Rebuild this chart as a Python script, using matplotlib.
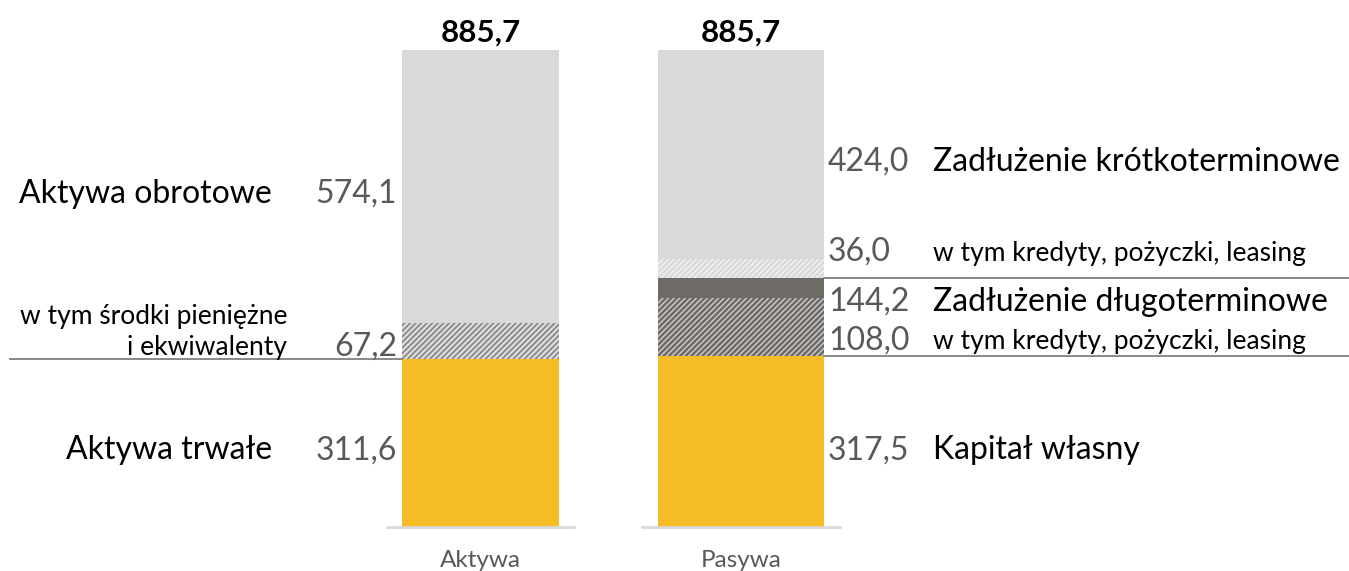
import matplotlib.pyplot as plt
import matplotlib as mpl

mpl.rcParams['font.family'] = ['Lato', 'DejaVu Sans']
mpl.rcParams['hatch.linewidth'] = 1.0

categories = ['Aktywa', 'Pasywa']
totals = [885.7, 885.7]

# Aktywa
aktywa_trwale = 311.6
aktywa_obrotowe = 574.1
srodki_pieniezne = 67.2

# Pasywa
kapital_wlasny = 317.5
zadl_dlugo = 144.2
zadl_dlugo_kredyty = 108.0
zadl_krotko = 424.0
zadl_krotko_kredyty = 36.0

yellow = '#F5BC25'
light = '#D9D9D9'
dark = '#6E6A65'
val_col = '#595959'

fig = plt.figure(figsize=(13.49, 5.71), dpi=100)
ax = fig.add_axes([0, 0, 1, 1])
ax.set_xlim(-480.5 / 260.5, (1349 - 480.5) / 260.5)
ax.set_ylim(-81.7, 978.5)
ax.axis('off')


def px(p):
    # horizontal pixel position -> x data coordinate
    return (p - 480.5) / 260.5


w_a = 157 / 260.5
w_p = 166 / 260.5

# Aktywa bar
ax.bar(0, aktywa_trwale, w_a, color=yellow, linewidth=0)
ax.bar(0, srodki_pieniezne, w_a, bottom=aktywa_trwale, color=light,
       hatch='//////', edgecolor='#7a7a7a', linewidth=0)
ax.bar(0, aktywa_obrotowe - srodki_pieniezne, w_a, bottom=aktywa_trwale + srodki_pieniezne,
       color=light, linewidth=0)

# Pasywa bar
b = kapital_wlasny
ax.bar(1, kapital_wlasny, w_p, color=yellow, linewidth=0)
ax.bar(1, zadl_dlugo_kredyty, w_p, bottom=b, color=dark, hatch='//////',
       edgecolor='#cfcfcf', linewidth=0)
ax.bar(1, zadl_dlugo - zadl_dlugo_kredyty, w_p, bottom=b + zadl_dlugo_kredyty,
       color=dark, linewidth=0)
b2 = kapital_wlasny + zadl_dlugo
ax.bar(1, zadl_krotko_kredyty, w_p, bottom=b2, color=light, hatch='//////',
       edgecolor='#f4f4f4', linewidth=0)
ax.bar(1, zadl_krotko - zadl_krotko_kredyty, w_p, bottom=b2 + zadl_krotko_kredyty,
       color=light, linewidth=0)

fmt = lambda v: f'{v:.1f}'.replace('.', ',')
big = 23
small = 19

# totals
for i, t in enumerate(totals):
    ax.text(i, t + 15, fmt(t), ha='center', va='baseline',
            fontsize=22.5, fontweight='bold', color='black')

# baselines and separators
ax.plot([px(387), px(574)], [0, 0], color='#D9D9D9', lw=2)
ax.plot([px(642), px(840)], [0, 0], color='#D9D9D9', lw=2)
ax.plot([px(10), px(402)], [aktywa_trwale, aktywa_trwale], color='#7f7f7f', lw=1.3)
ax.plot([px(824), px(1349)], [kapital_wlasny, kapital_wlasny], color='#7f7f7f', lw=1.3)
ax.plot([px(824), px(1349)], [b2, b2], color='#7f7f7f', lw=1.3)

# left labels
ax.text(px(397), 602, fmt(aktywa_obrotowe), ha='right', va='baseline', fontsize=big, color=val_col)
ax.text(px(272), 602, 'Aktywa obrotowe', ha='right', va='baseline', fontsize=big, color='black')
ax.text(px(397), 319, fmt(srodki_pieniezne), ha='right', va='baseline', fontsize=big, color=val_col)
ax.text(px(287), 377, 'w tym środki pieniężne', ha='right', va='baseline',
        fontsize=small, color='black')
ax.text(px(287), 319, 'i ekwiwalenty', ha='right', va='baseline', fontsize=small, color='black')
ax.text(px(397), 126, fmt(aktywa_trwale), ha='right', va='baseline', fontsize=big, color=val_col)
ax.text(px(272), 126, 'Aktywa trwałe', ha='right', va='baseline', fontsize=big, color='black')

# right labels
right_rows = [
    (661, fmt(zadl_krotko), 'Zadłużenie krótkoterminowe', big),
    (494, fmt(zadl_krotko_kredyty), 'w tym kredyty, pożyczki, leasing', small),
    (401, fmt(zadl_dlugo), 'Zadłużenie długoterminowe', big),
    (330, fmt(zadl_dlugo_kredyty), 'w tym kredyty, pożyczki, leasing', small),
    (126, fmt(kapital_wlasny), 'Kapitał własny', big),
]
for y, v, lab, fs in right_rows:
    ax.text(px(828), y, v, ha='left', va='baseline', fontsize=big, color=val_col)
    ax.text(px(933), y, lab, ha='left', va='baseline', fontsize=fs, color='black')

for i, c in enumerate(categories):
    ax.text(i, -75, c, ha='center', va='baseline', fontsize=17.5, color=val_col)

fig.savefig('out.png', dpi=100)
